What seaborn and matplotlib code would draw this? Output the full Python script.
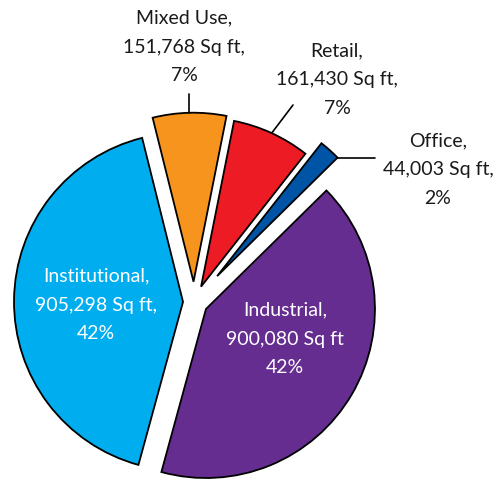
import numpy as np
import matplotlib
matplotlib.use('Agg')
import matplotlib.pyplot as plt
import seaborn as sns

# Datos del gráfico
categorias = ['Mixed Use', 'Retail', 'Office', 'Industrial', 'Institutional']
superficie = [151768, 161430, 44003, 900080, 905298]
porcentajes = ['7%', '7%', '2%', '42%', '42%']
colores = ['#F7941D', '#ED1C24', '#0054A6', '#662D91', '#00AEEF']
separacion = [0.12, 0.1, 0.205, 0.082, 0.065]

sns.set_theme(style='white')
plt.rcParams['font.family'] = ['Lato', 'DejaVu Sans']

# Centro del pastel en píxeles y radio
CX, CY, R = 194, 303, 169
W, H = 501, 481


def px(x, y):
    # convierte píxeles de la imagen a coordenadas de datos
    return (x - CX) / R, (CY - y) / R


fig = plt.figure(figsize=(W / 100, H / 100), dpi=100)
ax = fig.add_axes([0, 0, 1, 1])

wedges, _ = ax.pie(superficie, colors=colores, explode=separacion,
                   startangle=104, counterclock=False,
                   wedgeprops=dict(edgecolor='black', linewidth=1.3))
ax.set_xlim(-CX / R, (W - CX) / R)
ax.set_ylim(-(H - CY) / R, CY / R)
ax.axis('off')


def etiqueta(i, final=True):
    coma = ',' if final else ''
    return f"{categorias[i]},\n{superficie[i]:,} Sq ft{coma}\n{porcentajes[i]}"


estilo = dict(ha='center', va='center', fontsize=14, linespacing=1.85)

# Etiquetas externas con líneas guía
# Mixed Use: línea vertical hacia arriba
w = wedges[0]
ang = np.deg2rad((w.theta1 + w.theta2) / 2)
x0, y0 = w.center[0] + w.r * np.cos(ang), w.center[1] + w.r * np.sin(ang)
ax.plot([x0, x0], [y0, px(0, 95)[1]], color='black', lw=1.2)
ax.text(*px(184, 47), etiqueta(0), color='#1a1a1a', **estilo)

# Retail: línea inclinada
w = wedges[1]
ang = np.deg2rad((w.theta1 + w.theta2) / 2)
x0, y0 = w.center[0] + w.r * np.cos(ang), w.center[1] + w.r * np.sin(ang)
x1, y1 = px(293, 106)
ax.plot([x0, x1], [y0, y1], color='black', lw=1.2)
ax.text(*px(337, 80), etiqueta(1), color='#1a1a1a', **estilo)

# Office: línea horizontal desde la esquina exterior
w = wedges[2]
ang = np.deg2rad(w.theta1)
x0, y0 = w.center[0] + w.r * np.cos(ang), w.center[1] + w.r * np.sin(ang)
ax.plot([x0, px(375, 0)[0]], [y0, y0], color='black', lw=1.2)
ax.text(*px(438, 170), etiqueta(2), color='#1a1a1a', **estilo)

# Etiquetas internas
ax.text(*px(96, 305), etiqueta(4), color='white', **estilo)
ax.text(*px(285, 339), etiqueta(3, final=False), color='white', **estilo)

plt.savefig('out.png', dpi=100)
